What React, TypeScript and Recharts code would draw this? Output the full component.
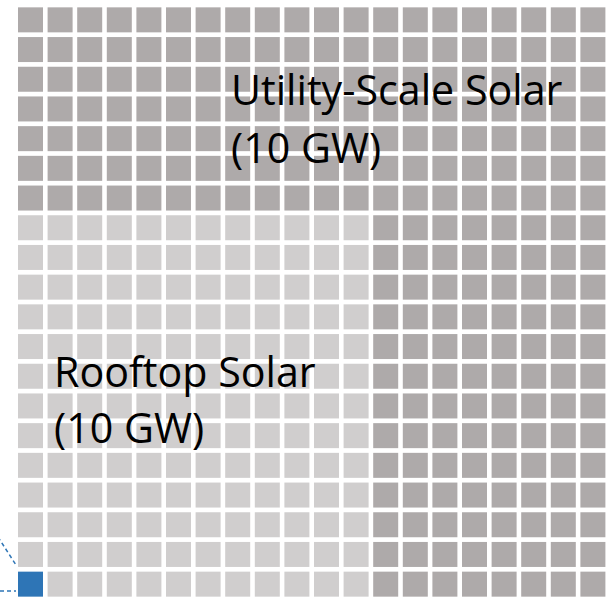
import { BarChart, Bar, XAxis, YAxis } from "recharts";

// 20 x 20 waffle grid, one bar per column, stacked bottom-up
const COLUMNS = ["c1", "c2", "c3", "c4", "c5", "c6", "c7", "c8", "c9", "c10", "c11", "c12", "c13", "c14", "c15", "c16", "c17", "c18", "c19", "c20"];
const MARKER_CELLS = [1, 0, 0, 0, 0, 0, 0, 0, 0, 0, 0, 0, 0, 0, 0, 0, 0, 0, 0, 0];
const ROOFTOP_CELLS = [12, 13, 13, 13, 13, 13, 13, 13, 13, 13, 13, 13, 0, 0, 0, 0, 0, 0, 0, 0];
const UTILITY_CELLS = [7, 7, 7, 7, 7, 7, 7, 7, 7, 7, 7, 7, 20, 20, 20, 20, 20, 20, 20, 20];

const SERIES = [
  { key: "marker", color: "#2E75B6" },
  { key: "rooftop", color: "#D0CECE" },
  { key: "utility", color: "#AEAAAA" },
];

const data = COLUMNS.map((col, i) => ({
  col,
  marker: MARKER_CELLS[i],
  rooftop: ROOFTOP_CELLS[i],
  utility: UTILITY_CELLS[i],
}));

const FONT = "'Open Sans', sans-serif";

function cellShape(key: string, color: string) {
  return (props: any) => {
    const { x, y, width, height, payload } = props;
    const count = payload?.[key] ?? 0;
    if (!count || !height) return <g />;
    const unit = height / count;
    const size = width;
    return (
      <g>
        {Array.from({ length: count }, (_, i) => (
          <rect
            key={i}
            x={x}
            y={y + i * unit + (unit - size) / 2}
            width={size}
            height={size}
            fill={color}
          />
        ))}
      </g>
    );
  };
}

// text + callout leader, laid over the chart
function Overlay() {
  const style = { fontFamily: FONT, fontSize: 41.2, fill: "#000" };
  return (
    <svg
      width={609}
      height={599}
      style={{ position: "absolute", left: 0, top: 0, pointerEvents: "none" }}
    >
      <text x={231} y={105} style={style}>Utility-Scale Solar</text>
      <text x={231} y={163} style={style}>(10 GW)</text>
      <text x={54} y={387} style={style}>Rooftop Solar</text>
      <text x={54} y={443} style={style}>(10 GW)</text>
      <line x1={-2} y1={537} x2={16} y2={565} stroke="#2E75B6" strokeWidth={1.5} strokeDasharray="4 3" />
      <line x1={0} y1={591} x2={16} y2={591} stroke="#2E75B6" strokeWidth={1.5} strokeDasharray="4 3" />
    </svg>
  );
}

export default function App() {
  return (
    <div style={{ position: "absolute", left: 0, top: 0, width: 609, height: 599 }}>
      <BarChart
        width={609}
        height={599}
        data={data}
        margin={{ top: 5, right: 1, bottom: 0, left: 16 }}
        barSize={25}
      >
        <XAxis dataKey="col" hide />
        <YAxis type="number" domain={[0, 20]} hide />
        {SERIES.map((s) => (
          <Bar
            key={s.key}
            dataKey={s.key}
            stackId="grid"
            fill={s.color}
            isAnimationActive={false}
            shape={cellShape(s.key, s.color)}
          />
        ))}
      </BarChart>
      <Overlay />
    </div>
  );
}
